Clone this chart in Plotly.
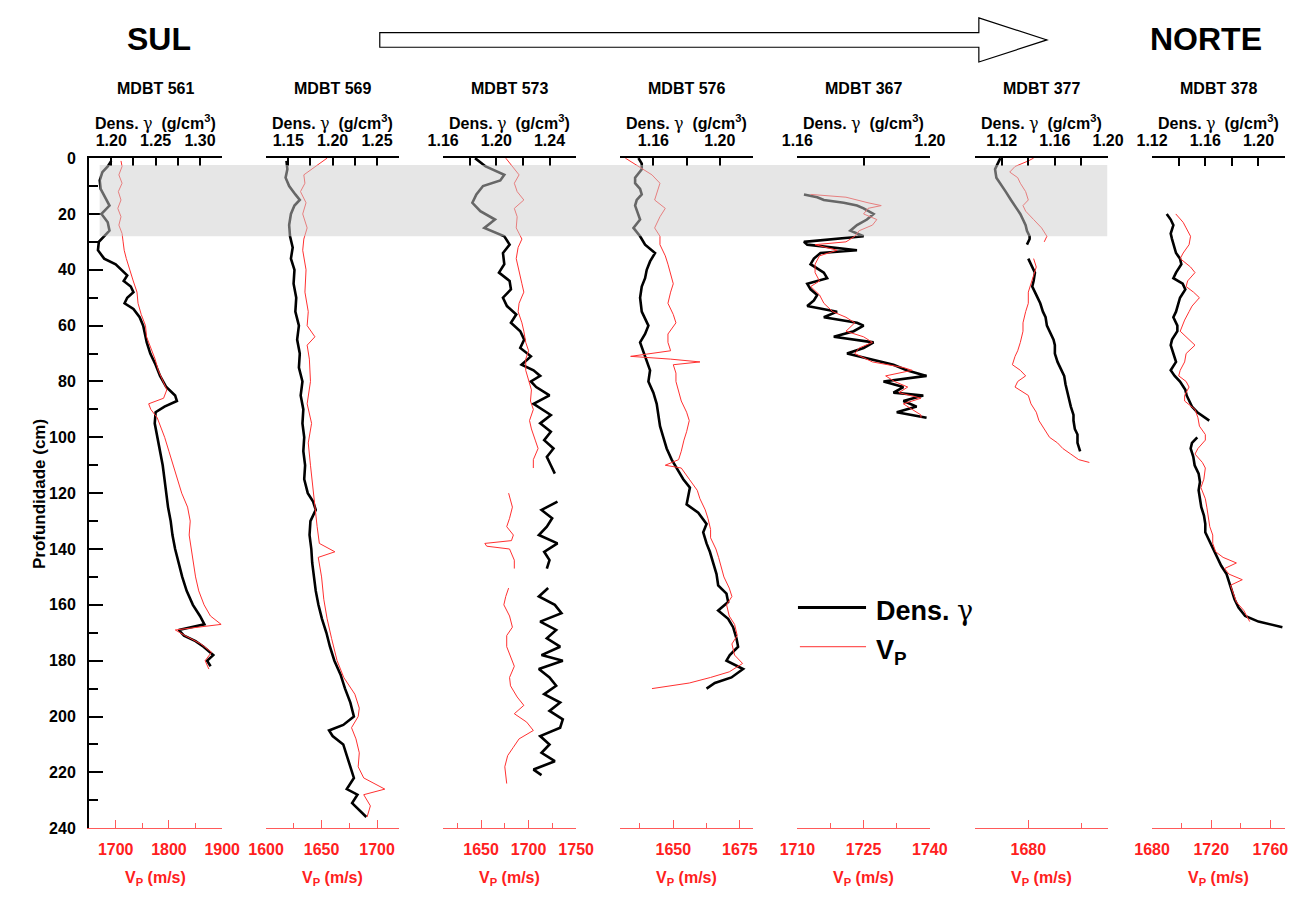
import plotly.graph_objects as go

W, H = 1310, 900
FONT = "Liberation Sans"
RED_TXT = "#ff2020"
RED_AX = "#ff5a5a"
RED_CURVE = "#ff3030"


def fx(px):
    return px / W


def fy(py):
    return 1 - py / H


cores = ["MDBT 561", "MDBT 569", "MDBT 573", "MDBT 576", "MDBT 367", "MDBT 377", "MDBT 378"]

# ---- (depth cm, gamma density g/cm3) and (depth cm, Vp m/s); None marks a gap ----
dens_561 = [(1, 1.200), (3, 1.196), (5, 1.190), (8, 1.187), (11, 1.188), (14, 1.193), (17, 1.198),
            (20, 1.189), (23, 1.196), (26, 1.198), (28, 1.192), (30, 1.186), (33, 1.185), (36, 1.192),
            (38, 1.205), (40, 1.212), (42, 1.218), (44, 1.214), (46, 1.222), (48, 1.225), (50, 1.218),
            (52, 1.215), (54, 1.225), (57, 1.232), (60, 1.236), (63, 1.238), (66, 1.240), (70, 1.244),
            (74, 1.250), (78, 1.255), (82, 1.262), (85, 1.272), (87, 1.274), (89, 1.260), (91, 1.250),
            (95, 1.249), (100, 1.252), (105, 1.255), (110, 1.258), (115, 1.260), (120, 1.262),
            (125, 1.264), (130, 1.267), (135, 1.269), (140, 1.272), (145, 1.276), (150, 1.280),
            (155, 1.285), (160, 1.292), (164, 1.300), (167, 1.305), (169, 1.276), (171, 1.282),
            (173, 1.295), (175, 1.304), (178, 1.315), (180, 1.308), (182, 1.312)]
vp_561 = [(1, 1710), (3, 1712), (6, 1706), (9, 1712), (12, 1705), (15, 1710), (18, 1704), (21, 1710),
          (24, 1706), (27, 1712), (30, 1714), (33, 1716), (36, 1720), (40, 1726), (44, 1733), (48, 1740),
          (52, 1742), (56, 1748), (60, 1756), (64, 1758), (68, 1766), (72, 1774), (76, 1780), (80, 1790),
          (83, 1796), (86, 1790), (88, 1762), (90, 1766), (93, 1778), (97, 1786), (100, 1792),
          (105, 1800), (110, 1808), (115, 1815), (120, 1824), (125, 1835), (130, 1840), (135, 1838),
          (140, 1842), (145, 1846), (150, 1850), (155, 1856), (160, 1866), (164, 1878), (167, 1898),
          (169, 1812), (171, 1830), (174, 1860), (177, 1880), (180, 1868), (183, 1875)]

dens_569 = [(1, 1.148), (4, 1.149), (7, 1.147), (10, 1.151), (13, 1.158), (15, 1.163), (17, 1.157),
            (20, 1.153), (24, 1.151), (28, 1.152), (32, 1.155), (36, 1.153), (40, 1.157), (45, 1.156),
            (50, 1.159), (55, 1.158), (60, 1.162), (65, 1.160), (70, 1.163), (75, 1.162), (80, 1.166),
            (85, 1.164), (90, 1.167), (95, 1.166), (100, 1.168), (105, 1.167), (110, 1.169),
            (115, 1.168), (120, 1.172), (123, 1.178), (126, 1.181), (130, 1.175), (135, 1.174),
            (140, 1.176), (145, 1.177), (150, 1.179), (155, 1.181), (160, 1.184), (165, 1.188),
            (170, 1.193), (175, 1.197), (180, 1.202), (185, 1.209), (190, 1.214), (195, 1.220),
            (200, 1.224), (203, 1.212), (205, 1.196), (207, 1.200), (210, 1.212), (214, 1.216),
            (218, 1.220), (222, 1.224), (226, 1.216), (228, 1.228), (231, 1.222), (234, 1.232),
            (236, 1.238)]
vp_569 = [(0, 1655), (2, 1648), (4, 1640), (6, 1634), (9, 1635), (12, 1631), (16, 1636), (20, 1633),
          (25, 1637), (29, 1634), (33, 1633), (40, 1636), (48, 1635), (55, 1638), (60, 1637), (64, 1644),
          (67, 1637), (72, 1639), (80, 1640), (88, 1637), (95, 1641), (102, 1638), (110, 1640),
          (118, 1642), (125, 1644), (132, 1646), (138, 1648), (141, 1662), (143, 1647), (150, 1650),
          (158, 1652), (165, 1655), (172, 1659), (180, 1664), (186, 1670), (192, 1680), (197, 1684),
          (200, 1683), (204, 1677), (208, 1681), (213, 1684), (218, 1683), (222, 1688), (226, 1707),
          (228, 1688), (232, 1694), (236, 1691)]

dens_573 = [(0, 1.184), (3, 1.192), (6, 1.206), (8, 1.203), (10, 1.190), (13, 1.185), (16, 1.182),
            (19, 1.188), (22, 1.199), (25, 1.191), (28, 1.206), (31, 1.210), (34, 1.205), (38, 1.206),
            (41, 1.202), (44, 1.210), (47, 1.211), (50, 1.205), (53, 1.208), (56, 1.215), (59, 1.211),
            (62, 1.218), (65, 1.221), (68, 1.218), (71, 1.226), (74, 1.219), (76, 1.228), (78, 1.233),
            (80, 1.226), (82, 1.230), (85, 1.240), (88, 1.228), (92, 1.241), (95, 1.233), (98, 1.241),
            (101, 1.236), (104, 1.243), (107, 1.238), (110, 1.241), (113, 1.244),
            (None, None),
            (123, 1.246), (126, 1.234), (129, 1.242), (132, 1.238), (135, 1.232), (138, 1.246),
            (141, 1.236), (144, 1.240), (147, 1.238),
            (None, None),
            (154, 1.239), (157, 1.232), (160, 1.244), (163, 1.249), (166, 1.233), (169, 1.245),
            (172, 1.238), (175, 1.248), (178, 1.234), (180, 1.250), (183, 1.232), (186, 1.240),
            (189, 1.245), (192, 1.236), (195, 1.248), (198, 1.240), (201, 1.250), (204, 1.248),
            (207, 1.233), (210, 1.240), (213, 1.234), (216, 1.244), (219, 1.228), (221, 1.234)]
vp_573 = [(0, 1676), (3, 1683), (6, 1690), (9, 1685), (12, 1688), (15, 1695), (18, 1685), (21, 1688),
          (25, 1687), (29, 1693), (32, 1689), (36, 1687), (41, 1690), (45, 1693), (48, 1695), (52, 1690),
          (55, 1689), (59, 1693), (62, 1695), (66, 1697), (69, 1700), (72, 1697), (76, 1697), (80, 1700),
          (83, 1703), (87, 1702), (90, 1705), (94, 1701), (97, 1703), (101, 1707), (104, 1710),
          (108, 1705), (111, 1705),
          (None, None),
          (120, 1679), (125, 1683), (129, 1680), (132, 1677), (135, 1684), (137, 1682), (138, 1654),
          (139, 1656), (140, 1680), (144, 1685), (147, 1685),
          (None, None),
          (154, 1679), (157, 1676), (160, 1674), (164, 1680), (168, 1683), (171, 1677), (175, 1677),
          (179, 1682), (182, 1685), (186, 1680), (189, 1681), (193, 1688), (196, 1695), (199, 1685),
          (202, 1698), (205, 1705), (208, 1690), (211, 1684), (214, 1678), (218, 1675), (221, 1676),
          (224, 1677)]

dens_576 = [(0, 1.151), (2, 1.153), (4, 1.153), (7, 1.149), (9, 1.149), (11, 1.152), (13, 1.153),
            (15, 1.150), (17, 1.149), (20, 1.151), (22, 1.152), (25, 1.148), (28, 1.152), (31, 1.155),
            (34, 1.161), (37, 1.158), (40, 1.156), (43, 1.155), (46, 1.153), (50, 1.152), (55, 1.153),
            (60, 1.157), (63, 1.155), (66, 1.152), (71, 1.155), (76, 1.158), (80, 1.157), (84, 1.160),
            (88, 1.162), (92, 1.163), (96, 1.164), (100, 1.166), (104, 1.168), (108, 1.171),
            (112, 1.175), (115, 1.178), (118, 1.182), (121, 1.181), (124, 1.180), (127, 1.187),
            (131, 1.192), (134, 1.190), (138, 1.192), (141, 1.194), (145, 1.196), (149, 1.198),
            (153, 1.199), (156, 1.204), (159, 1.205), (162, 1.199), (165, 1.205), (168, 1.208),
            (172, 1.210), (175, 1.211), (178, 1.206), (180, 1.204), (183, 1.214), (186, 1.207),
            (188, 1.197), (190, 1.192)]
vp_576 = [(0, 1632), (3, 1637), (6, 1642), (9, 1645), (12, 1644), (15, 1643), (18, 1647), (21, 1645),
          (25, 1643), (28, 1645), (31, 1645), (35, 1647), (38, 1648), (42, 1649), (45, 1650), (48, 1649),
          (52, 1648), (56, 1650), (59, 1651), (63, 1648), (66, 1648), (69, 1649), (71, 1634), (72, 1649),
          (73, 1660), (74, 1650), (77, 1651), (80, 1651), (84, 1652), (87, 1653), (91, 1655), (94, 1656),
          (98, 1655), (101, 1654), (105, 1653), (108, 1652), (110, 1647), (111, 1653), (115, 1656),
          (119, 1659), (122, 1660), (126, 1662), (129, 1663), (133, 1664), (136, 1664), (140, 1666),
          (143, 1667), (147, 1668), (150, 1669), (154, 1671), (157, 1672), (160, 1670), (164, 1671),
          (167, 1673), (171, 1674), (174, 1672), (178, 1673), (181, 1676), (184, 1671), (186, 1664),
          (188, 1656), (190, 1642)]

dens_367 = [(13, 1.162), (14, 1.166), (15, 1.168), (16, 1.174), (17, 1.178), (18, 1.180), (20, 1.183),
            (22, 1.181), (24, 1.178), (26, 1.176), (28, 1.180), (29, 1.171), (30, 1.162), (31, 1.163),
            (33, 1.178), (34, 1.167), (36, 1.165), (38, 1.164), (41, 1.168), (43, 1.169), (45, 1.163),
            (47, 1.164), (49, 1.166), (51, 1.165), (53, 1.163), (55, 1.172), (57, 1.168), (59, 1.178),
            (60, 1.180), (62, 1.177), (64, 1.171), (66, 1.183), (68, 1.180), (70, 1.175), (72, 1.182),
            (74, 1.189), (76, 1.193), (78, 1.199), (80, 1.186), (82, 1.192), (84, 1.189), (85, 1.198),
            (87, 1.192), (89, 1.196), (91, 1.190), (93, 1.199)]
vp_367 = [(13, 1713), (14, 1721), (16, 1726), (17, 1729), (18, 1726), (20, 1725), (22, 1728), (24, 1727),
          (26, 1724), (28, 1723), (30, 1721), (31, 1714), (33, 1719), (35, 1715), (38, 1714), (41, 1714),
          (44, 1715), (46, 1713), (49, 1715), (52, 1716), (55, 1718), (57, 1721), (59, 1723), (62, 1721),
          (64, 1725), (66, 1727), (68, 1724), (70, 1723), (73, 1727), (75, 1734), (76, 1736), (78, 1730),
          (80, 1732), (82, 1735), (84, 1733), (86, 1738), (88, 1734), (90, 1736), (92, 1738), (93, 1738)]

dens_377 = [(0, 1.119), (2, 1.117), (4, 1.115), (7, 1.116), (9, 1.119), (12, 1.123), (15, 1.127),
            (18, 1.131), (20, 1.134), (22, 1.136), (24, 1.138), (26, 1.139), (28, 1.141), (29, 1.141),
            (31, 1.139),
            (None, None),
            (36, 1.140), (38, 1.142), (41, 1.145), (44, 1.144), (46, 1.143), (49, 1.146), (52, 1.149),
            (55, 1.151), (57, 1.153), (60, 1.154), (62, 1.156), (65, 1.159), (67, 1.160), (70, 1.160),
            (73, 1.162), (76, 1.165), (78, 1.167), (81, 1.168), (83, 1.169), (86, 1.170), (89, 1.172),
            (92, 1.174), (94, 1.174), (97, 1.175), (99, 1.177), (102, 1.177), (104, 1.178), (105, 1.179)]
vp_377 = [(0, 1682), (1, 1680), (3, 1675), (5, 1673), (7, 1676), (9, 1677), (12, 1679), (15, 1680),
          (17, 1678), (19, 1679), (22, 1682), (25, 1685), (28, 1687), (30, 1686),
          (None, None),
          (36, 1682), (39, 1683), (42, 1682), (45, 1681), (48, 1680), (52, 1680), (55, 1679), (59, 1678),
          (62, 1678), (66, 1677), (69, 1676), (71, 1675), (74, 1674), (76, 1677), (78, 1679), (80, 1676),
          (82, 1675), (85, 1680), (88, 1681), (91, 1683), (94, 1684), (97, 1686), (100, 1688),
          (102, 1691), (104, 1693), (106, 1696), (108, 1699), (109, 1703)]

dens_378 = [(20, 1.131), (22, 1.134), (24, 1.136), (27, 1.134), (29, 1.135), (32, 1.137), (34, 1.138),
            (36, 1.141), (38, 1.142), (41, 1.138), (43, 1.136), (45, 1.143), (47, 1.145), (50, 1.141),
            (52, 1.140), (55, 1.138), (57, 1.136), (60, 1.139), (62, 1.139), (65, 1.135), (67, 1.134),
            (70, 1.136), (73, 1.138), (76, 1.134), (78, 1.137), (80, 1.141), (83, 1.145), (85, 1.146),
            (87, 1.148), (89, 1.150), (91, 1.154), (93, 1.160), (94, 1.163),
            (None, None),
            (100, 1.154), (102, 1.150), (104, 1.149), (107, 1.151), (110, 1.152), (113, 1.155),
            (116, 1.156), (119, 1.155), (122, 1.156), (125, 1.157), (128, 1.159), (131, 1.160),
            (134, 1.160), (137, 1.163), (140, 1.166), (143, 1.169), (146, 1.172), (149, 1.176),
            (152, 1.178), (155, 1.180), (158, 1.182), (161, 1.185), (164, 1.190), (166, 1.200),
            (168, 1.218)]
vp_378 = [(20, 1696), (23, 1701), (25, 1703), (28, 1706), (31, 1705), (34, 1701), (36, 1699), (39, 1706),
          (41, 1709), (44, 1704), (46, 1703), (48, 1708), (50, 1712), (53, 1707), (55, 1705), (58, 1702),
          (62, 1699), (65, 1705), (67, 1709), (70, 1703), (73, 1702), (76, 1699), (78, 1698), (80, 1703),
          (82, 1705), (85, 1702), (87, 1702), (90, 1709), (93, 1711), (96, 1712), (99, 1716), (101, 1716),
          (104, 1711), (106, 1709), (109, 1714), (111, 1716), (115, 1715), (118, 1713), (122, 1716),
          (125, 1717), (129, 1718), (132, 1719), (135, 1721), (138, 1721), (141, 1723), (143, 1728),
          (145, 1737), (147, 1729), (149, 1732), (151, 1741), (153, 1733), (156, 1735), (159, 1737),
          (162, 1742), (164, 1744), (166, 1746)]

dens_series = [dens_561, dens_569, dens_573, dens_576, dens_367, dens_377, dens_378]
vp_series = [vp_561, vp_569, vp_573, vp_576, vp_367, vp_377, vp_378]

# ---- axis settings per core ----
dens_range = [[1.1749, 1.3251], [1.1249, 1.2751], [1.1599, 1.2601], [1.1399, 1.2201],
              [1.1599, 1.2001], [1.0999, 1.2001], [1.1199, 1.2201]]
dens_tick0 = [1.20, 1.15, 1.16, 1.16, 1.16, 1.12, 1.12]
dens_dtick = [0.05, 0.05, 0.04, 0.04, 0.04, 0.04, 0.04]
dens_minor = [0.025, 0.025, 0.02, 0.02, 0.02, 0.02, 0.02]
vp_range = [[1649.9, 1900.1], [1599.9, 1720], [1610, 1750.1], [1630, 1680],
            [1709.9, 1740.1], [1659.9, 1710.1], [1679.9, 1770]]
vp_tick0 = [1700, 1600, 1650, 1650, 1710, 1680, 1680]
vp_dtick = [100, 50, 50, 25, 15, 40, 40]
vp_minor = [50, 25, 25, 12.5, 7.5, 20, 20]

panel_left = [73, 255, 437, 619, 801, 984, 1166]
panel_w = 137
plot_top, plot_bottom = 153, 836


def split(pairs):
    return [p[0] for p in pairs], [p[1] for p in pairs]


fig = go.Figure()
layout_axes = {}
bold = dict(family=FONT, weight="bold")

for i in range(len(cores)):
    dx = "x" if i == 0 else f"x{2 * i + 1}"
    vx = f"x{2 * i + 2}"
    dkey = "xaxis" if i == 0 else f"xaxis{2 * i + 1}"
    vkey = f"xaxis{2 * i + 2}"
    dom = [fx(panel_left[i]), fx(panel_left[i] + panel_w)]

    layout_axes[dkey] = dict(
        domain=dom, anchor="y", side="top", range=dens_range[i],
        tick0=dens_tick0[i], dtick=dens_dtick[i], tickformat=".2f",
        ticks="inside", ticklen=8, tickwidth=1.5, tickcolor="black",
        minor=dict(dtick=dens_minor[i], tick0=dens_tick0[i], ticks="inside", ticklen=8,
                   tickwidth=1.5, tickcolor="black", showgrid=False),
        showline=True, linecolor="black", linewidth=1.6,
        showgrid=False, zeroline=False,
        tickfont=dict(size=16, color="black", **bold), ticklabelstandoff=4,
    )
    layout_axes[vkey] = dict(
        anchor="y", side="bottom", overlaying=dx, range=vp_range[i],
        tick0=vp_tick0[i], dtick=vp_dtick[i], tickformat="d",
        ticks="inside", ticklen=8, tickwidth=1.2, tickcolor=RED_AX,
        minor=dict(dtick=vp_minor[i], tick0=vp_tick0[i], ticks="inside", ticklen=5,
                   tickwidth=1.2, tickcolor=RED_AX, showgrid=False),
        showline=True, linecolor=RED_AX, linewidth=1.3,
        showgrid=False, zeroline=False,
        tickfont=dict(size=16, color=RED_TXT, **bold), ticklabelstandoff=6,
    )

    dd, dv = split(dens_series[i])
    vd, vv = split(vp_series[i])
    fig.add_trace(go.Scatter(x=dv, y=dd, xaxis=dx, yaxis="y", mode="lines",
                             line=dict(color="black", width=2.6), showlegend=False,
                             name="Dens. γ", connectgaps=False))
    fig.add_trace(go.Scatter(x=vv, y=vd, xaxis=vx, yaxis="y", mode="lines",
                             line=dict(color=RED_CURVE, width=1), showlegend=False,
                             name="Vp", connectgaps=False))

layout_axes["yaxis"] = dict(
    domain=[fy(plot_bottom), fy(plot_top)], anchor="x", side="left",
    range=[240, 0], tick0=0, dtick=20,
    ticks="inside", ticklen=14, tickwidth=1.6, tickcolor="black",
    minor=dict(dtick=10, ticks="inside", ticklen=9, tickwidth=1.6, tickcolor="black", showgrid=False),
    showline=True, linecolor="black", linewidth=2,
    showgrid=False, zeroline=False,
    tickfont=dict(size=16, color="black", **bold), ticklabelstandoff=8,
)

annotations = []
shapes = []

for i, name in enumerate(cores):
    cx = fx(panel_left[i] + panel_w / 2)
    annotations.append(dict(x=cx, y=fy(82), xref="paper", yref="paper", text=name,
                            showarrow=False, xanchor="center", yanchor="middle",
                            font=dict(size=16, color="black", **bold)))
    annotations.append(dict(x=cx, y=fy(117), xref="paper", yref="paper",
                            text="Dens. <span style='font-weight:normal;font-family:DejaVu Serif'>γ</span>  (g/cm<sup>3</sup>)",
                            showarrow=False, xanchor="center", yanchor="middle",
                            font=dict(size=16, color="black", **bold)))
    annotations.append(dict(x=cx, y=fy(887), xref="paper", yref="paper",
                            text="V<sub>P</sub> (m/s)",
                            showarrow=False, xanchor="center", yanchor="middle",
                            font=dict(size=16, color=RED_TXT, **bold)))

annotations.append(dict(x=fx(22), y=fy(495), xref="paper", yref="paper", text="Profundidade (cm)",
                        textangle=-90, showarrow=False, xanchor="center", yanchor="middle",
                        font=dict(size=17, color="black", **bold)))
annotations.append(dict(x=fx(145), y=fy(32), xref="paper", yref="paper", text="SUL",
                        showarrow=False, xanchor="center", yanchor="middle",
                        font=dict(size=32, color="black", **bold)))
annotations.append(dict(x=fx(1222), y=fy(32), xref="paper", yref="paper", text="NORTE",
                        showarrow=False, xanchor="center", yanchor="middle",
                        font=dict(size=32, color="black", **bold)))

# legend drawn by hand
shapes.append(dict(type="line", xref="paper", yref="paper", x0=fx(802), x1=fx(872),
                   y0=fy(611), y1=fy(611), line=dict(color="black", width=3)))
shapes.append(dict(type="line", xref="paper", yref="paper", x0=fx(804), x1=fx(872),
                   y0=fy(651), y1=fy(651), line=dict(color=RED_CURVE, width=1)))
annotations.append(dict(x=fx(880), y=fy(614), xref="paper", yref="paper",
                        text="Dens. <span style='font-weight:normal;font-family:DejaVu Serif'>γ</span>",
                        showarrow=False, xanchor="left", yanchor="middle",
                        font=dict(size=27, color="black", **bold)))
annotations.append(dict(x=fx(880), y=fy(656), xref="paper", yref="paper",
                        text="V<sub>P</sub>",
                        showarrow=False, xanchor="left", yanchor="middle",
                        font=dict(size=27, color="black", **bold)))

# south-to-north arrow
arrow = (f"M {fx(372)},{fy(25)} L {fx(988)},{fy(25)} L {fx(988)},{fy(10)} "
         f"L {fx(1058)},{fy(32.5)} L {fx(988)},{fy(55)} L {fx(988)},{fy(40)} "
         f"L {fx(372)},{fy(40)} Z")
shapes.append(dict(type="path", xref="paper", yref="paper", path=arrow,
                   line=dict(color="black", width=1.2), fillcolor="white"))

# shaded top interval
shapes.append(dict(type="rect", xref="paper", yref="y", x0=fx(84), x1=fx(1120), y0=2.5, y1=28,
                   fillcolor="rgba(205,205,205,0.5)", line=dict(width=0), layer="above"))

fig.update_layout(
    width=W, height=H, autosize=False,
    margin=dict(l=0, r=0, t=0, b=0),
    paper_bgcolor="white", plot_bgcolor="rgba(0,0,0,0)",
    showlegend=False,
    font=dict(family=FONT),
    annotations=annotations, shapes=shapes,
    **layout_axes,
)

fig.write_html("out.html",
               post_script="document.body.style.margin='0';document.body.style.overflow='hidden';")
